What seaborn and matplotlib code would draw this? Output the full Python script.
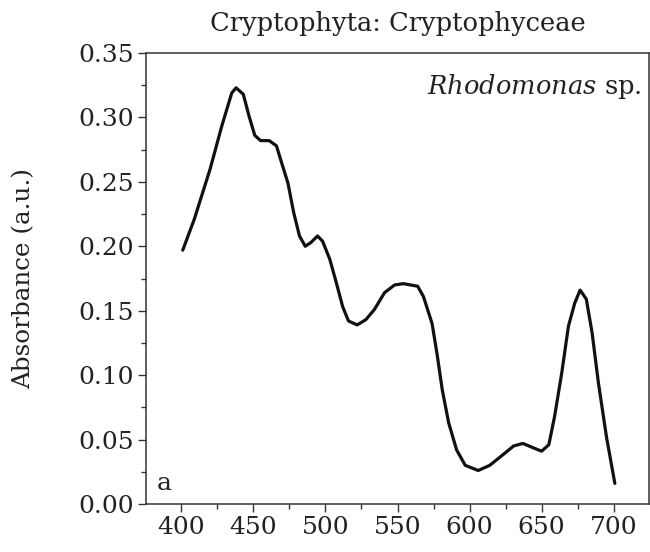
import matplotlib
matplotlib.use("Agg")
import matplotlib.pyplot as plt
from matplotlib.ticker import MultipleLocator, FormatStrFormatter
import seaborn as sns
import pandas as pd

wavelength = [401, 409, 420, 428, 435, 438, 443, 447, 451, 455, 461, 466, 469, 474,
              478, 482, 486, 490, 494.5, 498, 503, 507, 512, 516, 522, 528, 534, 541,
              548, 554, 564, 568, 574, 577.5, 581, 585.5, 591, 597, 606, 614, 624, 630.5,
              637, 645.5, 650, 655, 659, 664, 668.6, 673, 676.7, 681, 685, 689.4, 695, 700.8]
absorbance = [0.197, 0.221, 0.260, 0.293, 0.319, 0.323, 0.318, 0.301, 0.286, 0.282,
              0.282, 0.278, 0.267, 0.249, 0.226, 0.208, 0.200, 0.203, 0.208, 0.204,
              0.190, 0.174, 0.153, 0.142, 0.139, 0.143, 0.151, 0.164, 0.170, 0.171,
              0.169, 0.161, 0.140, 0.116, 0.089, 0.063, 0.042, 0.030, 0.026, 0.030,
              0.039, 0.045, 0.047, 0.043, 0.041, 0.046, 0.068, 0.102, 0.138, 0.156,
              0.166, 0.159, 0.133, 0.094, 0.052, 0.016]

title = "Cryptophyta: Cryptophyceae"
species = "Rhodomonas"
panel = "a"
ylabel = "Absorbance (a.u.)"

sns.set_theme(style="ticks")
plt.rcParams['font.family'] = ['DejaVu Serif']
plt.rcParams['mathtext.fontset'] = 'dejavuserif'

df = pd.DataFrame({"wl": wavelength, "A": absorbance})

fig = plt.figure(figsize=(6.5, 5.52), dpi=100)
ax = fig.add_axes([146/650, 48/552, (649-146)/650, (504-53)/552])
sns.lineplot(data=df, x="wl", y="A", ax=ax, color="#111111", linewidth=2.3)

ax.set_xlim(375.5, 724.5)
ax.set_ylim(0, 0.35)
ax.xaxis.set_major_locator(MultipleLocator(50))
ax.xaxis.set_minor_locator(MultipleLocator(25))
ax.yaxis.set_major_locator(MultipleLocator(0.05))
ax.yaxis.set_minor_locator(MultipleLocator(0.025))
ax.yaxis.set_major_formatter(FormatStrFormatter("%.2f"))
ax.set_xticks([400, 450, 500, 550, 600, 650, 700])

ax.tick_params(which="major", direction="out", length=5.5, width=1.0, color="#333333",
               labelsize=18, labelcolor="#222222", pad=3)
ax.tick_params(which="minor", direction="out", length=3.5, width=1.0, color="#333333")
for s in ax.spines.values():
    s.set_linewidth(1.1)
    s.set_color("#333333")

ax.set_xlabel("")
ax.set_ylabel(ylabel, fontsize=17.7, color="#222222", labelpad=31)
ax.set_title(title, fontsize=18.5, color="#222222", pad=16)

ax.text(0.985, 0.925, r"$\it{Rhodomonas}$ sp.", transform=ax.transAxes,
        ha="right", va="center", fontsize=18.5, color="#222222")
ax.text(0.022, 0.045, panel, transform=ax.transAxes, ha="left", va="center",
        fontsize=18, color="#222222")

fig.savefig("out.png", dpi=100)
